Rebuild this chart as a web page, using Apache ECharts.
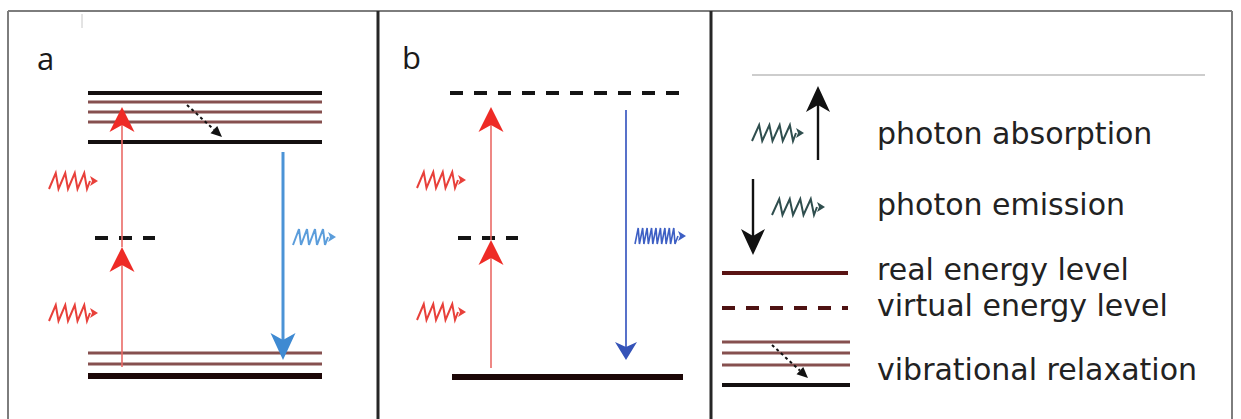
<!DOCTYPE html>
<html>
<head>
<meta charset="utf-8">
<script src="https://cdn.jsdelivr.net/npm/echarts@6/dist/echarts.min.js"></script>
<style>
html,body{margin:0;padding:0;background:#fff;}
#chart{width:1241px;height:419px;}
</style>
</head>
<body>
<div id="chart"></div>
<script>
// ---------- diagram data (diagram units) ----------
// frame rules [x1, y1, x2, y2]
const frameOuter = [[8, 11, 1232, 11], [8, 11, 8, 419], [1232, 11, 1232, 419]];
const frameDividers = [[378, 11, 378, 419], [711, 11, 711, 419]];
const legendRule = [[752, 75, 1205, 75]];
const strayMark = [[82, 14, 82, 28]];

// energy levels [xStart, xEnd, level]
const realLevels = [[88, 322, 93], [88, 322, 142], [722, 850, 385]];
const groundLevels = [[88, 322, 376], [452, 683, 377]];
const vibLevels = [[88, 322, 102], [88, 322, 112], [88, 322, 122], [88, 322, 353], [88, 322, 364],
                   [722, 850, 342], [722, 850, 353], [722, 850, 365]];
const virtualLevels = [[95, 155, 238], [450, 683, 93], [458, 518, 238]];
const legendRealLevel = [[722, 848, 273]];
const legendVirtualLevel = [[722, 848, 308]];

// transitions [x, levelFrom, levelTo]
const pumpArrows = [[122, 367, 247], [122, 247, 107], [491, 368, 240], [491, 240, 107]];
const emissionA = [[283, 152, 360]];
const emissionB = [[626, 110, 360]];
const legendArrows = [[818, 160, 86], [753, 179, 255]];
// relaxation [x1, y1, x2, y2]
const relaxArrows = [[187, 105, 222, 137], [772, 345, 808, 378]];
// photons [xStart, xEnd, y]
const redPhotons = [[49, 98, 181], [49, 98, 313], [417, 466, 180], [417, 466, 312]];
const bluePhotonA = [[293, 336, 237]];
const bluePhotonB = [[635, 686, 236]];
const legendPhotons = [[752, 804, 133], [772, 825, 207]];

// texts
const panelLabels = ['a', 'b'];
const panelLabelX = [37, 402];
const panelLabelY = [58, 57];
const legendLabels = ['photon absorption', 'photon emission', 'real energy level', 'virtual energy level', 'vibrational relaxation'];
const legendLabelX = [877, 877, 877, 877, 877];
const legendLabelY = [133, 204, 269, 305, 369];

// ---------- renderers ----------
function ruleSeries(data, style) {
  return {
    type: 'custom', silent: true, data: data,
    renderItem: function (p, api) {
      const a = api.coord([api.value(0), api.value(1)]);
      const b = api.coord([api.value(2), api.value(3)]);
      return { type: 'line', shape: { x1: a[0], y1: a[1], x2: b[0], y2: b[1] }, style: style };
    }
  };
}
function levelSeries(data, style) {
  return {
    type: 'custom', silent: true, data: data,
    renderItem: function (p, api) {
      const a = api.coord([api.value(0), api.value(2)]);
      const b = api.coord([api.value(1), api.value(2)]);
      return { type: 'line', shape: { x1: a[0], y1: a[1], x2: b[0], y2: b[1] }, style: style };
    }
  };
}
function arrowSeries(data, color, width, headColor, len, headW, notch) {
  return {
    type: 'custom', silent: true, data: data,
    renderItem: function (p, api) {
      const s = api.coord([api.value(0), api.value(1)]);
      const e = api.coord([api.value(0), api.value(2)]);
      const dir = e[1] < s[1] ? -1 : 1;
      const baseY = e[1] - dir * len;
      const notchY = e[1] - dir * (len - notch);
      return {
        type: 'group', children: [
          { type: 'line', shape: { x1: s[0], y1: s[1], x2: e[0], y2: notchY }, style: { stroke: color, lineWidth: width } },
          { type: 'polygon', shape: { points: [[e[0], e[1]], [e[0] - headW / 2, baseY], [e[0], notchY], [e[0] + headW / 2, baseY]] }, style: { fill: headColor } }
        ]
      };
    }
  };
}
function photonSeries(data, color, cycles, amp, slant, width) {
  return {
    type: 'custom', silent: true, data: data,
    renderItem: function (p, api) {
      const a = api.coord([api.value(0), api.value(2)]);
      const b = api.coord([api.value(1), api.value(2)]);
      const headL = 8, headH = 5;
      const waveEnd = b[0] - headL - 3;
      const step = (waveEnd - a[0]) / (2 * cycles);
      const pts = [];
      for (let k = 0; k <= 2 * cycles; k++) {
        const up = k % 2 === 1;
        pts.push([a[0] + k * step + (up ? slant : 0), a[1] + (up ? -amp : amp)]);
      }
      pts.push([b[0] - headL, a[1]]);
      return {
        type: 'group', children: [
          { type: 'polyline', shape: { points: pts }, style: { stroke: color, lineWidth: width, fill: null, lineJoin: 'miter' } },
          { type: 'polygon', shape: { points: [[b[0], a[1]], [b[0] - headL, a[1] - headH], [b[0] - headL + 2, a[1]], [b[0] - headL, a[1] + headH]] }, style: { fill: color } }
        ]
      };
    }
  };
}
function relaxSeries(data) {
  return {
    type: 'custom', silent: true, data: data,
    renderItem: function (p, api) {
      const s = api.coord([api.value(0), api.value(1)]);
      const e = api.coord([api.value(2), api.value(3)]);
      const dx = e[0] - s[0], dy = e[1] - s[1];
      const L = Math.sqrt(dx * dx + dy * dy), ux = dx / L, uy = dy / L;
      const hl = 11, hw = 5;
      const bx = e[0] - ux * hl, by = e[1] - uy * hl;
      return {
        type: 'group', children: [
          { type: 'line', shape: { x1: s[0], y1: s[1], x2: bx, y2: by }, style: { stroke: '#111', lineWidth: 2, lineDash: [3, 3] } },
          { type: 'polygon', shape: { points: [[e[0], e[1]], [bx - uy * hw, by + ux * hw], [bx + uy * hw, by - ux * hw]] }, style: { fill: '#111' } }
        ]
      };
    }
  };
}
function textSeries(labels, xs, ys, font, color) {
  return {
    type: 'custom', silent: true, data: ys.map(function (y, i) { return [xs[i], y]; }),
    renderItem: function (p, api) {
      const c = api.coord([api.value(0), api.value(1)]);
      return {
        type: 'text', x: c[0], y: c[1],
        style: { text: labels[p.dataIndex], fill: color, fontSize: font.size, fontFamily: font.family, align: 'left', verticalAlign: 'middle' }
      };
    }
  };
}

const chart = echarts.init(document.getElementById('chart'), null, { renderer: 'svg' });
chart.setOption({
  animation: false,
  backgroundColor: '#ffffff',
  grid: { left: 0, right: 0, top: 0, bottom: 0 },
  xAxis: { type: 'value', min: 0, max: 1241, show: false },
  yAxis: { type: 'value', min: 0, max: 419, inverse: true, show: false },
  series: [
    ruleSeries(frameOuter, { stroke: '#7d7d7d', lineWidth: 2 }),
    ruleSeries(frameDividers, { stroke: '#262626', lineWidth: 3 }),
    ruleSeries(legendRule, { stroke: '#bdbdbd', lineWidth: 1.5 }),
    ruleSeries(strayMark, { stroke: '#c8c8c8', lineWidth: 1 }),
    levelSeries(vibLevels, { stroke: '#86504f', lineWidth: 3 }),
    levelSeries(realLevels, { stroke: '#141010', lineWidth: 4 }),
    levelSeries(groundLevels, { stroke: '#1c0707', lineWidth: 6 }),
    levelSeries(virtualLevels, { stroke: '#141414', lineWidth: 4, lineDash: [13, 11] }),
    levelSeries(legendRealLevel, { stroke: '#5a1414', lineWidth: 4 }),
    levelSeries(legendVirtualLevel, { stroke: '#4e1212', lineWidth: 4, lineDash: [13, 11] }),
    arrowSeries(pumpArrows, '#ea6a66', 1.6, '#ee2b26', 25, 25, 7),
    arrowSeries(emissionA, '#4b93d6', 3, '#3f8ad2', 27, 25, 7),
    arrowSeries(emissionB, '#4662c4', 1.8, '#3553b8', 18, 22, 5),
    arrowSeries(legendArrows, '#111111', 2.4, '#111111', 26, 24, 7),
    relaxSeries(relaxArrows),
    photonSeries(redPhotons, '#e8403a', 4, 8, 2, 2),
    photonSeries(bluePhotonA, '#5b9ddb', 4, 8, 2, 2),
    photonSeries(bluePhotonB, '#3d5fc4', 9, 8, 1, 1.6),
    photonSeries(legendPhotons, '#2f4e4e', 4, 8, 2, 2),
    textSeries(panelLabels, panelLabelX, panelLabelY, { size: 31, family: '"Open Sans", sans-serif' }, '#1a1a1a'),
    textSeries(legendLabels, legendLabelX, legendLabelY, { size: 30, family: '"DejaVu Sans", sans-serif' }, '#222222')
  ]
});
</script>
</body>
</html>
